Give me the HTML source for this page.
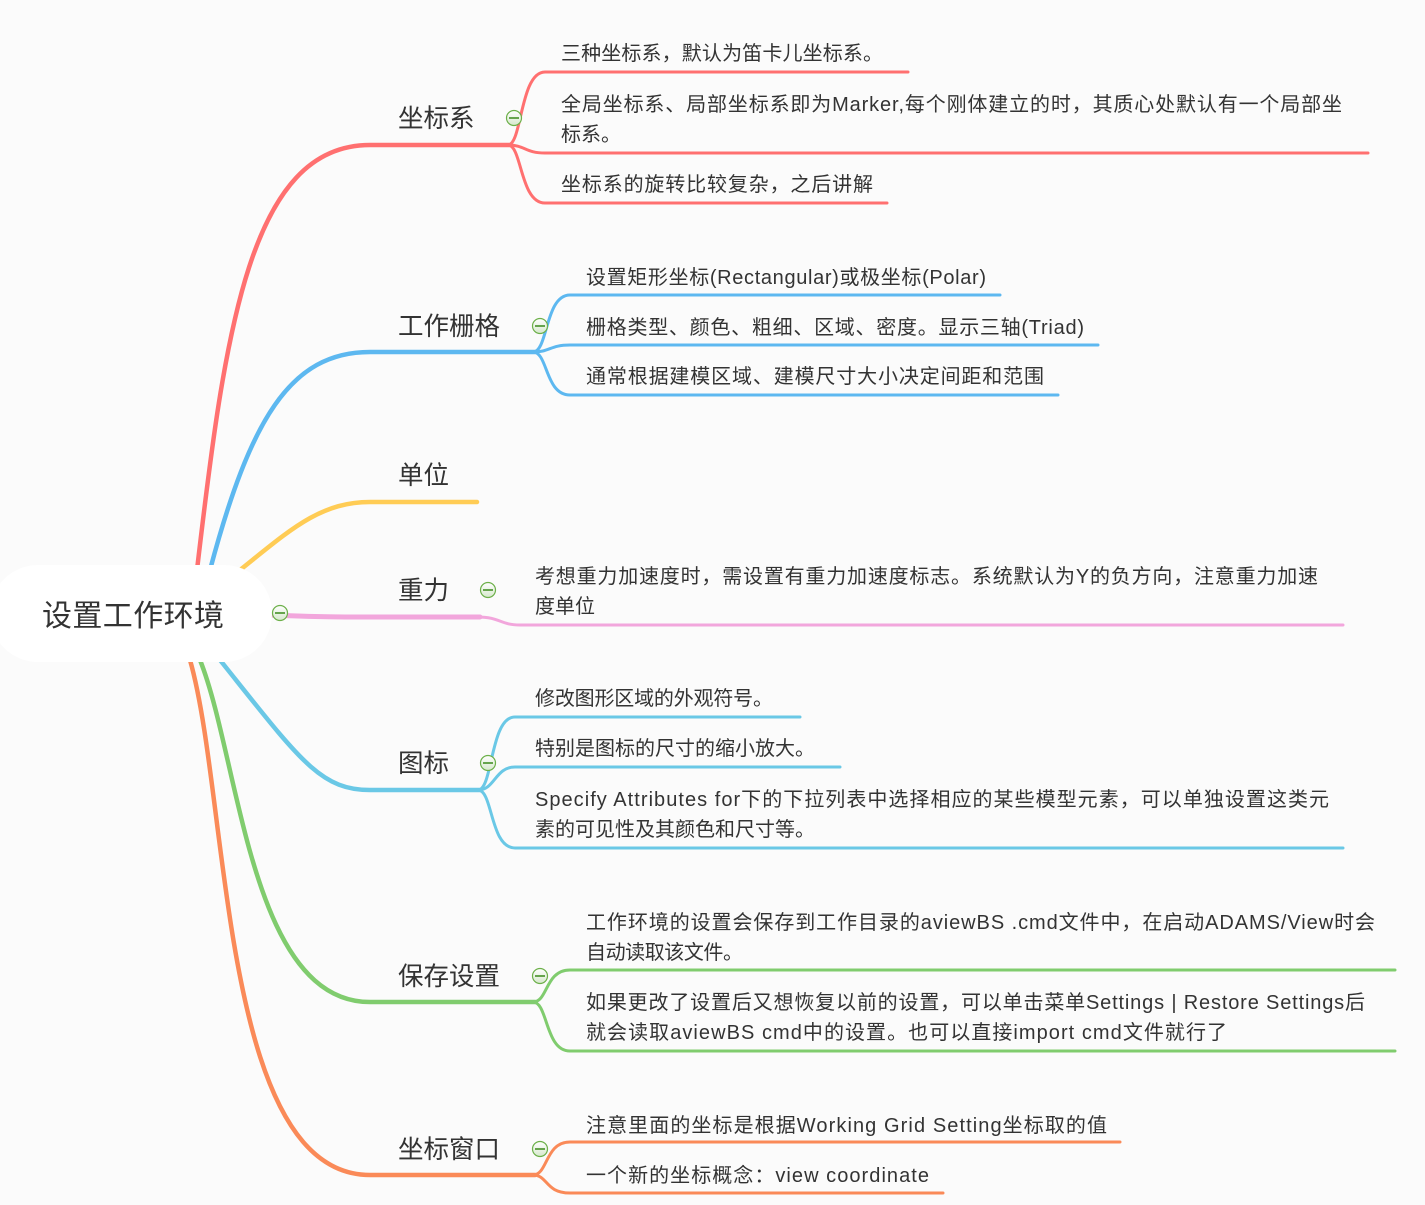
<!DOCTYPE html>
<html><head><meta charset="utf-8"><style>
html,body{margin:0;padding:0;background:#fbfbfb;}
svg{display:block}
text{font-family:"Liberation Sans","Noto Sans CJK SC",sans-serif;fill:#333;}
.c{font-size:20px}
.b{font-size:25.5px}
</style></head><body>
<svg width="1425" height="1205" viewBox="0 0 1425 1205" xmlns="http://www.w3.org/2000/svg">
<g fill="none" stroke-linecap="round">
<path d="M197,570 C225,330 250,145 370,145 L510,145" stroke="#ff7070" stroke-width="4.5"/>
<path d="M210,570 C250,420 290,352 370,352 L535,352" stroke="#5db8f0" stroke-width="4.5"/>
<path d="M240,570 C290,530 320,502 370,502 L477,502" stroke="#ffcc55" stroke-width="4.5"/>
<path d="M270,615 C320,617 340,617 370,617 L480,617" stroke="#f2a6dc" stroke-width="5"/>
<path d="M220,660 C300,760 320,790 370,790 L480,790" stroke="#6ac8e6" stroke-width="4.5"/>
<path d="M200,660 C240,760 250,1002 370,1002 L535,1002" stroke="#80cc6e" stroke-width="4.5"/>
<path d="M190,660 C230,800 220,1175 370,1175 L535,1175" stroke="#fa8a58" stroke-width="4.5"/>
<g stroke-width="3">
<path d="M508,145 C522,145 520,72 545,72 L908,72" stroke="#ff7070"/>
<path d="M508,145 C525,145 525,153 545,153 L1368,153" stroke="#ff7070"/>
<path d="M508,145 C522,145 520,203 545,203 L887,203" stroke="#ff7070"/>
<path d="M533,352 C548,352 545,295 570,295 L1000,295" stroke="#5db8f0"/>
<path d="M533,352 C550,352 550,345 570,345 L1098,345" stroke="#5db8f0"/>
<path d="M533,352 C548,352 545,395 570,395 L1058,395" stroke="#5db8f0"/>
<path d="M478,617 C500,617 500,625 520,625 L1343,625" stroke="#f2a6dc"/>
<path d="M478,790 C493,790 490,717 515,717 L800,717" stroke="#6ac8e6"/>
<path d="M478,790 C495,790 495,767 515,767 L840,767" stroke="#6ac8e6"/>
<path d="M478,790 C493,790 490,848 515,848 L1343,848" stroke="#6ac8e6"/>
<path d="M533,1002 C548,1002 545,970 570,970 L1395,970" stroke="#80cc6e"/>
<path d="M533,1002 C548,1002 545,1051 570,1051 L1395,1051" stroke="#80cc6e"/>
<path d="M533,1175 C548,1175 545,1142 570,1142 L1120,1142" stroke="#fa8a58"/>
<path d="M533,1175 C548,1175 545,1193 570,1193 L943,1193" stroke="#fa8a58"/>
</g>
</g>
<rect x="-10" y="565" width="282" height="97" rx="48" fill="#ffffff"/>
<text x="42" y="626" font-size="30" textLength="182">设置工作环境</text>
<defs><linearGradient id="g" x1="0" y1="0" x2="0" y2="1"><stop offset="0" stop-color="#ffffff"/><stop offset="1" stop-color="#d6e8cc"/></linearGradient></defs>
<g stroke="#6db04a" stroke-width="1.2">
<g fill="url(#g)">
<circle cx="514" cy="118" r="7.5"/><circle cx="540" cy="326" r="7.5"/><circle cx="488" cy="590" r="7.5"/>
<circle cx="280" cy="613" r="7.5"/><circle cx="488" cy="763" r="7.5"/><circle cx="540" cy="976" r="7.5"/><circle cx="540" cy="1149" r="7.5"/>
</g>
<g stroke="#3a8a1a" stroke-width="1.5">
<path d="M509,118h10M535,326h10M483,590h10M275,613h10M483,763h10M535,976h10M535,1149h10"/>
</g>
</g>
<text class="b" x="398" y="127">坐标系</text>
<text class="b" x="398" y="335">工作栅格</text>
<text class="b" x="398" y="484">单位</text>
<text class="b" x="398" y="599">重力</text>
<text class="b" x="398" y="772">图标</text>
<text class="b" x="398" y="985">保存设置</text>
<text class="b" x="398" y="1158">坐标窗口</text>
<text class="c" x="561" y="60" textLength="322">三种坐标系，默认为笛卡儿坐标系。</text>
<text class="c" x="561" y="111" textLength="781">全局坐标系、局部坐标系即为Marker,每个刚体建立的时，其质心处默认有一个局部坐</text>
<text class="c" x="561" y="141">标系。</text>
<text class="c" x="561" y="191" textLength="312">坐标系的旋转比较复杂，之后讲解</text>
<text class="c" x="586" y="284" textLength="400">设置矩形坐标(Rectangular)或极坐标(Polar)</text>
<text class="c" x="586" y="334" textLength="498">栅格类型、颜色、粗细、区域、密度。显示三轴(Triad)</text>
<text class="c" x="586" y="383" textLength="458">通常根据建模区域、建模尺寸大小决定间距和范围</text>
<text class="c" x="535" y="583" textLength="783">考想重力加速度时，需设置有重力加速度标志。系统默认为Y的负方向，注意重力加速</text>
<text class="c" x="535" y="613">度单位</text>
<text class="c" x="535" y="705" textLength="238">修改图形区域的外观符号。</text>
<text class="c" x="535" y="755" textLength="280">特别是图标的尺寸的缩小放大。</text>
<text class="c" x="535" y="806" textLength="794">Specify Attributes for下的下拉列表中选择相应的某些模型元素，可以单独设置这类元</text>
<text class="c" x="535" y="836" textLength="280">素的可见性及其颜色和尺寸等。</text>
<text class="c" x="586" y="929" textLength="789">工作环境的设置会保存到工作目录的aviewBS .cmd文件中，在启动ADAMS/View时会</text>
<text class="c" x="586" y="959" textLength="157">自动读取该文件。</text>
<text class="c" x="586" y="1009" textLength="779">如果更改了设置后又想恢复以前的设置，可以单击菜单Settings | Restore Settings后</text>
<text class="c" x="586" y="1039" textLength="641">就会读取aviewBS cmd中的设置。也可以直接import cmd文件就行了</text>
<text class="c" x="586" y="1132" textLength="521">注意里面的坐标是根据Working Grid Setting坐标取的值</text>
<text class="c" x="586" y="1182" textLength="343">一个新的坐标概念：view coordinate</text>
</svg>
</body></html>
